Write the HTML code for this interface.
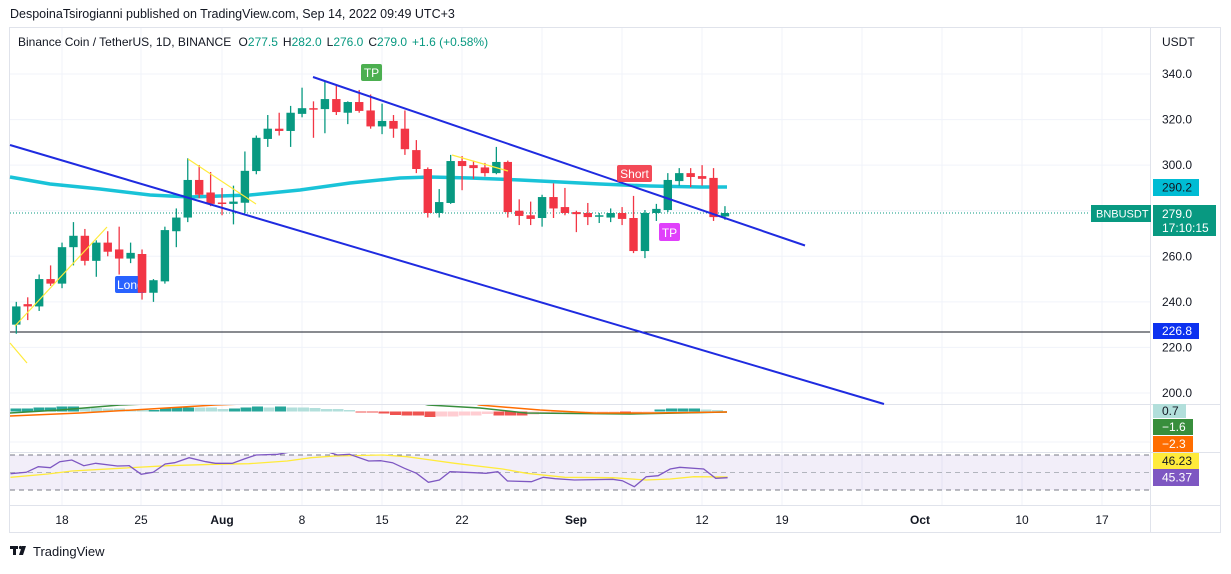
<!DOCTYPE html>
<html><head><meta charset="utf-8"><style>
body{margin:0;background:#fff;width:1231px;height:569px;overflow:hidden;font-family:"Liberation Sans",sans-serif}
</style></head><body>
<svg id="s" width="1231" height="569" xmlns="http://www.w3.org/2000/svg" font-family="Liberation Sans, sans-serif"></svg>
<script>
const S=document.getElementById('s');let h='';
const Y=p=>74+(340-p)*2.2786;
const X=i=>16.3+i*11.43;
h+='<text x="10" y="18" font-size="12.5" fill="#131722">DespoinaTsirogianni published on TradingView.com, Sep 14, 2022 09:49 UTC+3</text>';
h+='<rect x="9.5" y="27.5" width="1211" height="505" fill="none" stroke="#e0e3eb"/>';
const dates=[[62,'18'],[141,'25'],[222,'Aug'],[302,'8'],[382,'15'],[462,'22'],[576,'Sep'],[702,'12'],[782,'19'],[920,'Oct'],[1022,'10'],[1102,'17']];
[141,62,222,302,382,462,542,622,702,782,862,942,1022,1102].forEach(x=>h+=`<line x1="${x}" y1="28" x2="${x}" y2="505" stroke="#f0f3fa"/>`);
[340,320,300,280,260,240,220,200].forEach(p=>h+=`<line x1="10" y1="${Y(p)}" x2="1150" y2="${Y(p)}" stroke="#f0f3fa"/>`);
h+='<line x1="10" y1="442" x2="1150" y2="442" stroke="#f0f3fa"/>';
h+='<line x1="10" y1="404.5" x2="1220" y2="404.5" stroke="#e0e3eb"/><line x1="10" y1="452.5" x2="1220" y2="452.5" stroke="#e0e3eb"/><line x1="10" y1="505.5" x2="1220" y2="505.5" stroke="#e0e3eb"/>';
h+='<line x1="1150.5" y1="28" x2="1150.5" y2="532" stroke="#e0e3eb"/>';
dates.forEach(([x,t])=>h+=`<text x="${x}" y="524" font-size="12" fill="#131722" text-anchor="middle" ${t.length==3?'font-weight="bold"':''}>${t}</text>`);
h+='<text x="18" y="46" font-size="12" fill="#131722">Binance Coin / TetherUS, 1D, BINANCE <tspan dx="4">O</tspan><tspan fill="#089981">277.5</tspan><tspan dx="5">H</tspan><tspan fill="#089981">282.0</tspan><tspan dx="5">L</tspan><tspan fill="#089981">276.0</tspan><tspan dx="5">C</tspan><tspan fill="#089981">279.0</tspan><tspan dx="5" fill="#089981">+1.6 (+0.58%)</tspan></text>';
h+='<text x="1162" y="46" font-size="12" fill="#131722">USDT</text>';
h+='<rect x="10" y="455" width="1140" height="35" fill="#7e57c2" fill-opacity="0.1"/>';
[455,472.5,490].forEach((y,k)=>h+=`<line x1="10" y1="${y}" x2="1150" y2="${y}" stroke="${k==1?'#b2b5be':'#787b86'}" stroke-dasharray="5,4"/>`);
h+=`<line x1="10" y1="${Y(226.8)}" x2="1150" y2="${Y(226.8)}" stroke="#131722" stroke-width="1"/>`;
h+=`<line x1="10" y1="${Y(279)}" x2="1090" y2="${Y(279)}" stroke="#089981" stroke-dasharray="1,2"/>`;
h+='<polyline fill="none" stroke="#00bcd4" stroke-width="3.5" stroke-opacity="0.9" points="10,177 50,184 100,189 150,195 190,197 250,195 300,190 350,183 400,178 430,177 470,178 520,180 560,182 600,184 650,186 700,187 727,187"/>';
const C=[[230,238,240,226],[239,238,242,232],[238,250,252,236],[250,248,256,247],[248,264,266,246],[264,269,275,256],[269,258,272,256],[258,266,267,251],[266,262,271,260],[263,259,273,252],[259,261.5,266,257],[261,244,263,241],[244,249.5,250,240],[249,271.5,273,248],[271,277,281,264],[277,293.5,303,275],[293.5,287,300,285.5],[288,283,297,282],[283.6,283.2,290,278],[283,284,291,274],[283.5,297.5,306,279],[297.4,312,313,296],[311.5,316,322,308],[316,315,323,313],[315,323,326,308],[322.5,325,334,321],[325,324.5,328,312],[324.6,329,337,314],[329,323.3,335,322],[323,327.7,328,318],[327.7,323.8,333,323],[324,317,331,316],[317,319.4,327,313.6],[319.4,316,322,312],[316,307,324,304.5],
[306.6,298.3,311,296.5],[298.3,279,299,277],[279,283.8,289.5,277],[283.4,301.8,304.5,283],[301.8,299.6,304,289],[300,298.7,302,294],[299,296.5,301,295],[296.5,301.4,308,296],[301.4,279.4,302,277],[280,277.7,285,273.7],[278,276.4,284,273.7],[276.8,286,287,273],[286,281,292,276.8],[281.6,279,290,278],[279.4,278.5,280,270.6],[279,277.2,283.4,273.7],[277.5,278,279,274.6],[277,279,281,275],[279,276.4,281.6,273.7],[276.8,262.3,286.5,261.4],[262.3,279,280.3,259.2],[279,280.8,283,275.5],[280.3,293.5,296.5,279.4],[293,296.5,298.7,291],[296.5,294.8,298.7,290.4],[295.2,294,300,291],[294.4,277.2,298.7,275.5],[277.5,279,282,276]];
C.forEach((c,i)=>{const[o,cl,hi,lo]=c;const col=cl>=o?'#089981':'#f23645';const x=X(i);
const t=Y(Math.max(o,cl)),b=Y(Math.min(o,cl));
h+=`<line x1="${x}" y1="${Y(hi)}" x2="${x}" y2="${Y(lo)}" stroke="${col}" stroke-width="1.3"/><rect x="${x-4.2}" y="${t}" width="8.4" height="${Math.max(1.5,b-t)}" fill="${col}"/>`;});
h+='<line x1="313" y1="77" x2="805" y2="245.5" stroke="#1f2be0" stroke-width="2"/>';
h+='<line x1="10" y1="145" x2="884" y2="404" stroke="#1f2be0" stroke-width="2"/>';
h+='<g stroke="#ffeb3b" stroke-width="1.2"><line x1="10" y1="343" x2="27" y2="363"/><line x1="15" y1="326" x2="107" y2="227"/><line x1="188" y1="159" x2="256" y2="204"/><line x1="452" y1="155" x2="508" y2="171"/></g>';
h+='<rect x="361" y="64" width="21" height="17" rx="2" fill="#4caf50"/><text x="371.5" y="77" font-size="12" fill="#fff" text-anchor="middle">TP</text>';
h+='<rect x="115" y="276" width="30" height="17" rx="2" fill="#2962ff"/><text x="117" y="289" font-size="12" fill="#fff">Long</text>';
h+=`<rect x="137.8" y="${Y(261)}" width="8.4" height="${Y(244)-Y(261)}" fill="#f23645"/>`;
h+='<rect x="617" y="165" width="35" height="17" rx="2" fill="#f23645" fill-opacity="0.9"/><text x="634.5" y="178" font-size="12" fill="#fff" text-anchor="middle">Short</text>';
h+='<rect x="659" y="223" width="21" height="18" rx="2" fill="#e040fb"/><text x="669.5" y="237" font-size="12" fill="#fff" text-anchor="middle">TP</text>';
const H=[[3,'d'],[3,'d'],[4,'d'],[4,'d'],[5,'d'],[5,'d'],[4,'l'],[3.5,'l'],[3,'l'],[3,'l'],[2,'l'],[2,'l'],[1.5,'d'],[3,'d'],[4,'d'],[4,'d'],[4,'l'],[4,'l'],[2.5,'l'],[3,'d'],[4,'d'],[5,'d'],[4,'l'],[5,'d'],[4,'l'],[4,'l'],[3.5,'l'],[2.5,'l'],[2.5,'l'],[1.5,'l'],[-1,'r'],[-1,'r'],[-2,'r'],[-3.5,'r'],[-4,'r'],[-4,'r'],[-5.5,'r'],[-5,'q'],[-5,'q'],[-4,'q'],[-4,'q'],[-2.5,'q'],[-4,'r'],[-4,'r'],[-4,'r'],[-3,'q'],[-2,'q'],[-1,'q'],[-1,'q'],[-1,'q'],[-1,'q'],[-1,'q'],[-1,'q'],[-2,'r'],[-1,'q'],[-0.7,'q'],[2,'d'],[3,'d'],[3,'d'],[3,'d'],[2,'l'],[1.5,'l']];
const col={d:'#26a69a',l:'#b2dfdb',r:'#ef5350',q:'#ffcdd2'};
const base=411.5, hx=i=>10.5+i*11.5;
H.forEach(([v,c],i)=>{h+=`<rect x="${hx(i)}" y="${v>0?base-v:base}" width="11" height="${Math.abs(v)}" fill="${col[c]}"/>`});
h+='<clipPath id="cp"><rect x="10" y="405" width="1140" height="47"/></clipPath>';
h+='<g clip-path="url(#cp)" fill="none" stroke-width="1.5"><polyline stroke="#388e3c" points="10,413 60,410 120,405 200,402 330,400 420,403 428,405 480,408 526,413 630,414 680,413 727,412"/><polyline stroke="#ff6d00" points="10,416 80,413 150,409 215,405 300,402 470,402 479,405 540,410 594,413 650,413 727,412"/></g>';
const zp=(a)=>a.map(([x,y])=>`${(x*0.4787).toFixed(1)},${(395+y/3).toFixed(1)}`).join(' ');
const P=[[22,236],[55,232],[80,215],[105,218],[125,200],[150,195],[175,212],[200,205],[245,213],[270,212],[295,238],[320,232],[345,207],[365,203],[395,188],[430,200],[450,205],[485,205],[510,192],[535,180],[580,178],[610,170],[640,163],[670,164],[690,173],[705,180],[730,178],[770,198],[795,197],[820,203],[845,220],[870,235],[895,262],[918,255],[940,230],[990,233],[1015,235],[1040,230],[1060,258],[1110,260],[1135,247],[1160,251],[1200,255],[1280,253],[1300,257],[1325,275],[1350,245],[1375,242],[1400,222],[1420,217],[1470,222],[1495,250],[1520,248]];
const Q=[[22,247],[100,237],[150,228],[250,220],[350,212],[450,208],[520,206],[600,198],[650,188],[700,183],[800,180],[850,185],[900,195],[950,205],[1050,222],[1100,235],[1180,247],[1280,248],[1350,255],[1400,252],[1450,245],[1520,246]];
h+='<clipPath id="cr"><rect x="10" y="453" width="1140" height="52"/></clipPath><g clip-path="url(#cr)" fill="none" stroke-width="1.3">';
h+=`<polyline stroke="#ffeb3b" points="${zp(Q)}"/><polyline stroke="#7e57c2" points="${zp(P)}"/></g>`;
[[340,'340.0'],[320,'320.0'],[300,'300.0'],[260,'260.0'],[240,'240.0'],[220,'220.0'],[200,'200.0']].forEach(([p,t])=>h+=`<text x="1162" y="${Y(p)+4}" font-size="12" fill="#131722">${t}</text>`);
const box=(x,y,w,hh,bg,fg,t,dx=9,fs=12)=>h+=`<rect x="${x}" y="${y}" width="${w}" height="${hh}" fill="${bg}"/><text x="${x+dx}" y="${y+hh/2+4}" font-size="${fs}" fill="${fg}">${t}</text>`;
box(1153,179,46,17,'#00bcd4','#131722','290.2');
h+='<rect x="1153" y="205" width="63" height="31" fill="#089981"/><text x="1162" y="218" font-size="12" fill="#fff">279.0</text><text x="1162" y="232" font-size="12" fill="#fff">17:10:15</text>';
box(1091,205,60,17,'#089981','#fff','BNBUSDT',5,11);
box(1153,323,46,16,'#0c31f0','#fff','226.8');
box(1153,404,33,14,'#b2dfdb','#131722','0.7');
box(1153,419,40,16,'#388e3c','#fff','−1.6');
box(1153,436,40,16,'#ff6d00','#fff','−2.3');
box(1153,453,46,16,'#ffeb3b','#131722','46.23');
box(1153,469,46,17,'#7e57c2','#fff','45.37');
h+='<g fill="#131722"><rect x="10" y="546" width="8" height="3"/><rect x="13" y="546" width="3" height="9"/><circle cx="20.5" cy="547.5" r="1.6"/><polygon points="22,546 26,546 23,555 19,555"/></g><text x="33" y="556" font-size="13" fill="#131722">TradingView</text>';
S.innerHTML=h;
</script>
</body></html>
